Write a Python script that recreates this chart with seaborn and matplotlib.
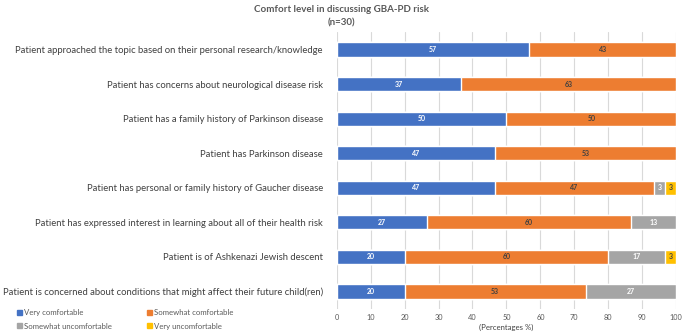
import numpy as np
import pandas as pd
import matplotlib
matplotlib.use("Agg")
from matplotlib import pyplot as plt
from matplotlib.patches import Patch
import seaborn as sns

# data (n=30, so values are x/30 in %)
situations = [
    "Patient approached the topic based on their personal research/knowledge",
    "Patient has concerns about neurological disease risk",
    "Patient has a family history of Parkinson disease",
    "Patient has Parkinson disease",
    "Patient has personal or family history of Gaucher disease",
    "Patient has expressed interest in learning about all of their health risk",
    "Patient is of Ashkenazi Jewish descent",
    "Patient is concerned about conditions that might affect their future child(ren)",
]
levels = ["Very comfortable", "Somewhat comfortable",
          "Somewhat uncomfortable", "Very uncomfortable"]
very_comf = [56.7, 36.7, 50.0, 46.7, 46.7, 26.7, 20.0, 20.0]
somewhat_comf = [43.3, 63.3, 50.0, 53.3, 46.7, 60.0, 60.0, 53.3]
somewhat_uncomf = [0, 0, 0, 0, 3.3, 13.3, 16.7, 26.7]
very_uncomf = [0, 0, 0, 0, 3.3, 0, 3.3, 0]
colors = ["#4472C4", "#ED7D31", "#A5A5A5", "#FFC000"]
label_colors = ["white", "#404040", "white", "#404040"]

sns.set_style("white")
plt.rcParams['font.family'] = ['Lato', 'DejaVu Sans']

df = pd.DataFrame({"situation": situations,
                   levels[0]: very_comf, levels[1]: somewhat_comf,
                   levels[2]: somewhat_uncomf, levels[3]: very_uncomf})
cum = df[levels].cumsum(axis=1)

fig = plt.figure(figsize=(6.83, 3.35), dpi=100)
ax = fig.add_axes([0.493, 0.078, 0.497, 0.826])

# stacked bars: draw cumulative totals from the outermost segment inwards
for lev, col in reversed(list(zip(levels, colors))):
    sns.barplot(x=cum[lev], y=df["situation"], color=col, width=0.41,
                orient="h", ax=ax, saturation=1, zorder=3)

# value labels in the middle of each segment
for lev, tc in zip(levels, label_colors):
    for i, (v, c) in enumerate(zip(df[lev], cum[lev])):
        if v > 0:
            ax.text(c - v / 2, i, "%.0f" % v, ha="center", va="center",
                    fontsize=5, fontweight="bold", color=tc, zorder=4)

ax.set_xlim(0, 100)
ax.set_xticks(np.arange(0, 101, 10))
ax.grid(axis="x", color="#D9D9D9", linewidth=0.8, zorder=0)
for s in ax.spines.values():
    s.set_visible(False)
ax.tick_params(axis="x", labelsize=5.3, colors="#595959", length=0, pad=4)
ax.tick_params(axis="y", labelsize=6.8, colors="#404040", length=0, pad=10)
ax.set_ylabel("")
ax.set_xlabel("(Percentages %)", fontsize=5.6, color="#404040", labelpad=2)

fig.text(0.5, 0.965, "Comfort level in discussing GBA-PD risk", ha="center",
         fontsize=7, fontweight="bold", color="#595959")
fig.text(0.5, 0.925, "(n=30)", ha="center", fontsize=7, fontweight="bold",
         color="#595959")

# legend filled row-wise like the original (matplotlib fills by column)
handles = [Patch(color=c, label=l) for c, l in zip(colors, levels)]
handles = [handles[0], handles[2], handles[1], handles[3]]
fig.legend(handles=handles, ncol=2, loc="lower left",
           bbox_to_anchor=(0.015, -0.005), frameon=False, fontsize=5.6,
           labelcolor="#595959", handlelength=0.6, handleheight=0.6,
           handletextpad=0.3, columnspacing=4.5, labelspacing=0.8)

fig.savefig("out.png", dpi=100)
